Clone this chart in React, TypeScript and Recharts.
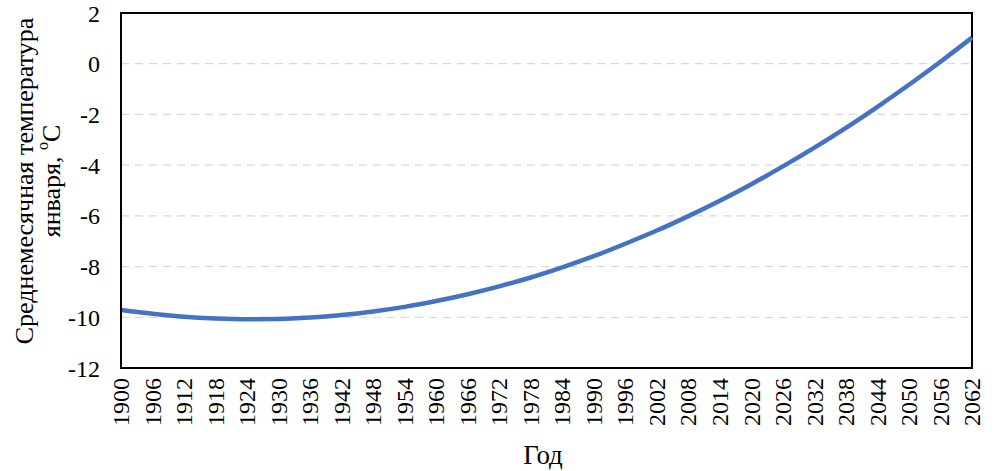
import { LineChart, Line, XAxis, YAxis, CartesianGrid, ReferenceArea } from "recharts";

// values, every 6 years
const years = [
  1900, 1906, 1912, 1918, 1924, 1930, 1936, 1942, 1948, 1954, 1960, 1966, 1972, 1978,
  1984, 1990, 1996, 2002, 2008, 2014, 2020, 2026, 2032, 2038, 2044, 2050, 2056, 2062,
];
const januaryTemp = [
  -9.71, -9.86, -9.98, -10.05, -10.08, -10.07, -10.01, -9.91, -9.77, -9.59, -9.36, -9.09, -8.78, -8.43,
  -8.03, -7.59, -7.1, -6.58, -6.01, -5.4, -4.75, -4.05, -3.31, -2.53, -1.7, -0.83, 0.08, 1.03,
];
const yTicks = [-12, -10, -8, -6, -4, -2, 0, 2];

const data = years.map((year, i) => ({ year, temp: januaryTemp[i] }));

const FONT = "'Liberation Serif', 'Times New Roman', serif";

function YearTick(props: any) {
  const { x, y, payload } = props;
  return (
    <text
      x={x}
      y={y}
      transform={`rotate(-90, ${x}, ${y})`}
      textAnchor="end"
      dy="0.34em"
      fontSize={24}
      fontFamily={FONT}
      fill="#000"
    >
      {payload.value}
    </text>
  );
}

function YTitle() {
  return (
    <g fontFamily={FONT} fontSize={26} fill="#000">
      <text x={24} y={181} transform="rotate(-90, 24, 181)" textAnchor="middle" dominantBaseline="central">
        Среднемесячная температура
      </text>
      <text x={51} y={181} transform="rotate(-90, 51, 181)" textAnchor="middle" dominantBaseline="central">
        января,{" "}
        <tspan fontSize={16} dy="-0.55em">o</tspan>
        <tspan dy="0.35em">C</tspan>
      </text>
    </g>
  );
}

function XTitle() {
  return (
    <text x={543} y={455} textAnchor="middle" dominantBaseline="central" fontFamily={FONT} fontSize={27} fill="#000">
      Год
    </text>
  );
}

export default function App() {
  return (
    <div style={{ position: "absolute", left: 0, top: 0, background: "#fff" }}>
      <LineChart width={996} height={471} data={data} margin={{ top: 13, right: 24, bottom: 3, left: 61 }}>
        <CartesianGrid vertical={false} stroke="#d9d9d9" strokeDasharray="8 6" strokeWidth={1.3} />
        <XAxis
          dataKey="year"
          type="number"
          domain={[1900, 2062]}
          ticks={years}
          interval={0}
          height={100}
          tickLine={false}
          tickSize={0}
          tickMargin={10}
          axisLine={{ stroke: "#000", strokeWidth: 2 }}
          tick={<YearTick />}
          label={<XTitle />}
        />
        <YAxis
          type="number"
          domain={[-12, 2]}
          ticks={yTicks}
          interval={0}
          width={60}
          tickLine={false}
          tickSize={0}
          tickMargin={21}
          axisLine={{ stroke: "#000", strokeWidth: 2 }}
          tick={{ fill: "#000", fontSize: 24, fontFamily: FONT }}
          label={<YTitle />}
        />
        <ReferenceArea x1={1900} x2={2062} y1={-12} y2={2} fill="none" stroke="#000" strokeWidth={2} />
        <Line
          type="monotone"
          dataKey="temp"
          stroke="#4472C4"
          strokeWidth={4.5}
          dot={false}
          isAnimationActive={false}
        />
      </LineChart>
    </div>
  );
}
